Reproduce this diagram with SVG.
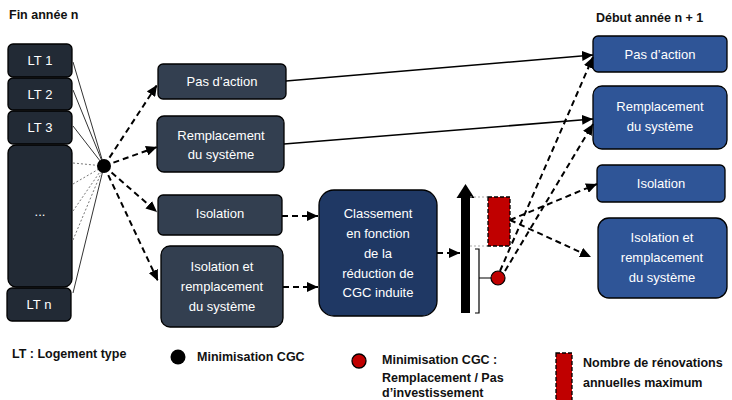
<svg xmlns="http://www.w3.org/2000/svg" width="732" height="400" viewBox="0 0 732 400">
<style>
  .t { font-family: "Liberation Sans", Arial, sans-serif; font-size: 13px; fill: #ffffff; text-anchor: middle; }
  .h { font-family: "Liberation Sans", Arial, sans-serif; font-size: 12.5px; font-weight: bold; fill: #111111; }
  .lt { fill: #222A35; stroke: #000; stroke-width: 1.3; }
  .mid { fill: #333F50; stroke: #000; stroke-width: 1.3; }
  .cls { fill: #1F3864; stroke: #000; stroke-width: 1.3; }
  .rb { fill: #2F5597; stroke: #000; stroke-width: 1.3; }
  .dash { fill: none; stroke: #000; stroke-width: 2; stroke-dasharray: 6 4; }
  .solid { fill: none; stroke: #000; stroke-width: 1.5; }
  .thin { fill: none; stroke: #333; stroke-width: 1; }
  .dot { fill: none; stroke: #777; stroke-width: 1; stroke-dasharray: 2 2; }
  .gdot { fill: none; stroke: #aaa; stroke-width: 1.2; stroke-dasharray: 2 2; }
</style>
<defs>
  <marker id="ah" markerUnits="userSpaceOnUse" markerWidth="12" markerHeight="10" refX="11" refY="5" orient="auto">
    <path d="M0,0 L11,5 L0,10 Z" fill="#000"/>
  </marker>
</defs>

<text class="h" x="9" y="19">Fin année n</text>
<text class="h" x="596" y="22">Début année n + 1</text>

<g id="lt1"><rect class="lt" x="8" y="44" width="64" height="33" rx="5"/><text class="t" x="40" y="65">LT 1</text></g>
<g id="lt2"><rect class="lt" x="8" y="78" width="64" height="32" rx="5"/><text class="t" x="40" y="99">LT 2</text></g>
<g id="lt3"><rect class="lt" x="8" y="111" width="64" height="33" rx="5"/><text class="t" x="40" y="132">LT 3</text></g>
<g id="ltdots"><rect class="lt" x="8" y="145" width="64" height="142" rx="8"/><text class="t" x="40" y="216">...</text></g>
<g id="ltn"><rect class="lt" x="7" y="288" width="64" height="33" rx="5"/><text class="t" x="39" y="309">LT n</text></g>

<g id="m1"><rect class="mid" x="158" y="64" width="128" height="35" rx="5"/><text class="t" x="222" y="86">Pas d’action</text></g>
<g id="m2"><rect class="mid" x="157" y="116" width="127" height="56" rx="7"/><text class="t" x="221" y="140">Remplacement</text><text class="t" x="221" y="159">du système</text></g>
<g id="m3"><rect class="mid" x="158" y="195" width="124" height="40" rx="5"/><text class="t" x="220" y="218">Isolation</text></g>
<g id="m4"><rect class="mid" x="161" y="246" width="122" height="81" rx="9"/><text class="t" x="222" y="271">Isolation et</text><text class="t" x="222" y="291">remplacement</text><text class="t" x="222" y="311">du système</text></g>

<g id="classement"><rect class="cls" x="319" y="190" width="118" height="126" rx="15"/>
  <text class="t" x="378" y="218">Classement</text>
  <text class="t" x="378" y="238">en fonction</text>
  <text class="t" x="378" y="258">de la</text>
  <text class="t" x="378" y="278">réduction de</text>
  <text class="t" x="378" y="297">CGC induite</text>
</g>

<g id="r1"><rect class="rb" x="593" y="36" width="134" height="36" rx="5"/><text class="t" x="660" y="59">Pas d’action</text></g>
<g id="r2"><rect class="rb" x="593" y="86" width="134" height="63" rx="9"/><text class="t" x="660" y="111">Remplacement</text><text class="t" x="660" y="131">du système</text></g>
<g id="r3"><rect class="rb" x="597" y="165" width="128" height="37" rx="5"/><text class="t" x="661" y="188">Isolation</text></g>
<g id="r4"><rect class="rb" x="598" y="218" width="129" height="80" rx="11"/><text class="t" x="662" y="242">Isolation et</text><text class="t" x="662" y="262">remplacement</text><text class="t" x="662" y="282">du système</text></g>

<g id="ranking">
  <rect x="461" y="196" width="9" height="117" fill="#000"/>
  <polygon points="456.5,198 465.5,184 474.5,198" fill="#000"/>
  <line class="gdot" x1="470" y1="197" x2="488" y2="197"/>
  <line class="gdot" x1="470" y1="246" x2="488" y2="246"/>
  <rect x="488" y="197" width="22" height="49" fill="#C00000" stroke="#000" stroke-width="1.3" stroke-dasharray="4 2"/>
  <path d="M475,249 H479 V313 H475 M479,278 H491" fill="none" stroke="#000" stroke-width="1.2"/>
  <circle cx="498" cy="278" r="7" fill="#C00000" stroke="#000" stroke-width="1.2"/>
</g>

<g id="connectors">
  <line class="thin" x1="73" y1="62" x2="104" y2="166"/>
  <line class="thin" x1="73" y1="90" x2="104" y2="166"/>
  <line class="thin" x1="73" y1="126" x2="104" y2="166"/>
  <line class="dot" x1="73" y1="163" x2="104" y2="166"/>
  <line class="dot" x1="73" y1="184" x2="104" y2="166"/>
  <line class="dot" x1="73" y1="211" x2="104" y2="166"/>
  <line class="dot" x1="73" y1="240" x2="104" y2="166"/>
  <line class="thin" x1="73" y1="293" x2="104" y2="166"/>

  <line class="dash" x1="104" y1="166" x2="157" y2="85" marker-end="url(#ah)"/>
  <line class="dash" x1="104" y1="166" x2="157" y2="147" marker-end="url(#ah)"/>
  <line class="dash" x1="104" y1="166" x2="157" y2="212" marker-end="url(#ah)"/>
  <line class="dash" x1="104" y1="166" x2="158" y2="281" marker-end="url(#ah)"/>

  <line class="solid" x1="286" y1="81" x2="593" y2="55" marker-end="url(#ah)"/>
  <line class="solid" x1="284" y1="144" x2="593" y2="119" marker-end="url(#ah)"/>

  <line class="dash" x1="282" y1="216" x2="318" y2="216" marker-end="url(#ah)"/>
  <line class="dash" x1="283" y1="287" x2="318" y2="287" marker-end="url(#ah)"/>
  <line class="dash" x1="437" y1="253" x2="460" y2="253" marker-end="url(#ah)"/>

  <line class="dash" x1="500" y1="271" x2="593" y2="57" marker-end="url(#ah)"/>
  <line class="dash" x1="505" y1="271" x2="593" y2="124" marker-end="url(#ah)"/>
  <line class="dash" x1="510" y1="220" x2="597" y2="184" marker-end="url(#ah)"/>
  <line class="dash" x1="510" y1="220" x2="591" y2="257" marker-end="url(#ah)"/>
</g>

<g id="hub"><circle cx="104" cy="166" r="7" fill="#000"/></g>

<g id="legend">
  <text class="h" x="12" y="358">LT : Logement type</text>
  <circle cx="178" cy="357" r="7.5" fill="#000"/>
  <text class="h" x="197" y="361">Minimisation CGC</text>
  <circle cx="359" cy="361" r="7" fill="#C00000" stroke="#000" stroke-width="1.3"/>
  <text class="h" x="382" y="364">Minimisation CGC :</text>
  <text class="h" x="382" y="382">Remplacement / Pas</text>
  <text class="h" x="382" y="397">d’investissement</text>
  <rect x="556" y="353" width="16" height="52" fill="#C00000" stroke="#000" stroke-width="1.3" stroke-dasharray="4 2"/>
  <text class="h" x="583" y="367">Nombre de rénovations</text>
  <text class="h" x="583" y="387">annuelles maximum</text>
</g>
</svg>
